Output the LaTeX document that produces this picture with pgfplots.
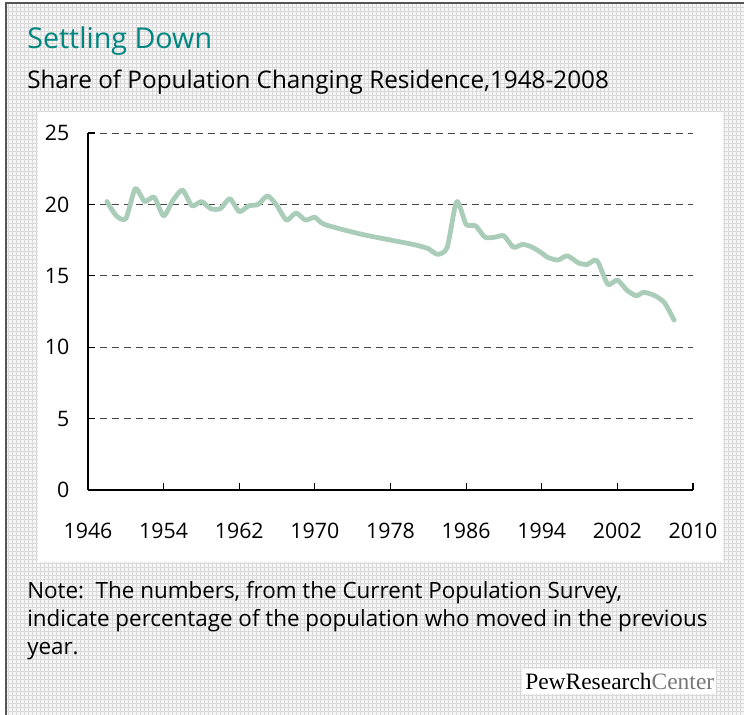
\documentclass[border=0pt]{standalone}
\usepackage{fontspec}
\setmainfont{Open Sans}
\newfontfamily\pewfont{Liberation Serif}
\usepackage{pgfplots}
\pgfplotsset{compat=1.18}
\usetikzlibrary{patterns}
\definecolor{pewteal}{RGB}{0,134,128}
\definecolor{linegreen}{RGB}{170,205,186}
\definecolor{gridgray}{RGB}{70,70,70}
\definecolor{bordergray}{RGB}{85,85,85}
\definecolor{centergray}{RGB}{120,120,120}

\pgfplotstableread{
year value
1948 20.2
1949 19.2
1950 19.0
1951 21.1
1952 20.2
1953 20.5
1954 19.2
1955 20.3
1956 21.0
1957 19.9
1958 20.2
1959 19.7
1960 19.7
1961 20.4
1962 19.5
1963 19.9
1964 20.0
1965 20.6
1966 19.9
1967 18.9
1968 19.4
1969 18.9
1970 19.1
1971 18.6
1975 17.9
1980 17.25
1981 17.1
1982 16.9
1983 16.5
1984 17.0
1985 20.2
1986 18.6
1987 18.5
1988 17.7
1989 17.7
1990 17.8
1991 17.0
1992 17.2
1993 17.0
1994 16.6
1994.6 16.3
1995.7 16.1
1996.7 16.4
1997.9 15.9
1998.8 15.8
1999.6 16.1
2000 15.9
2001 14.4
2002 14.7
2003 14.0
2004 13.6
2004.8 13.85
2006 13.6
2007 13.1
2008 11.9
}\movers

\begin{document}
\begin{tikzpicture}
\begin{scope}[x=0.75pt,y=-0.75pt]
\path[use as bounding box] (0,0) rectangle (744,715);
\fill[white] (0,0) rectangle (744,715);
\fill[gray!7] (6,3) rectangle (744,715);
\fill[pattern=grid, pattern color=gray!30] (6,3) rectangle (744,715);
\draw[line width=1.5pt, color=bordergray] (6,715) -- (6,3) -- (744,3);
\fill[white] (38,112) rectangle (723,562);
\node[anchor=base west, inner sep=0, text=pewteal, font=\fontsize{21.5}{25}\selectfont] at (27,48) {Settling Down};
\node[anchor=base west, inner sep=0, font=\fontsize{18.2}{22}\selectfont] at (27,88) {Share of Population Changing Residence,1948-2008};
\node[anchor=base west, inner sep=0, font=\fontsize{16.8}{20}\selectfont] at (27,598) {Note:\ \ The numbers, from the Current Population Survey,};
\node[anchor=base west, inner sep=0, font=\fontsize{16.8}{20}\selectfont] at (27,626) {indicate percentage of the population who moved in the previous};
\node[anchor=base west, inner sep=0, font=\fontsize{16.8}{20}\selectfont] at (27,654) {year.};
\fill[white] (522,669) rectangle (716,694);
\node[anchor=base west, inner sep=0, font=\pewfont\fontsize{17.6}{20}\selectfont] at (525,689) {PewResearch\textcolor{centergray}{Center}};
\end{scope}
\begin{axis}[
  at={(66pt,-367.5pt)}, anchor=south west,
  scale only axis, width=453.75pt, height=267.75pt,
  xmin=1946, xmax=2010, ymin=0, ymax=25,
  xtick={1946,1954,1962,1970,1978,1986,1994,2002,2010},
  ytick={0,5,10,15,20,25},
  axis x line*=bottom, axis y line*=left,
  axis line style={black, line width=0.9pt},
  tick align=inside, major tick length=5pt,
  tick style={black, line width=0.9pt},
  ymajorgrids,
  major grid style={gridgray, line width=0.75pt, dash pattern=on 5pt off 4pt},
  /pgf/number format/assume math mode=true,
  /pgf/number format/1000 sep={},
  tick label style={font=\fontsize{16}{19}\selectfont},
  yticklabel style={xshift=-10.5pt},
  xticklabel style={yshift=-21pt},
  clip=false,
]
\addplot[linegreen, line width=3.6pt, line join=round, line cap=round, smooth, tension=0.4] table[x=year, y=value] {\movers};
\end{axis}
\end{tikzpicture}
\end{document}
